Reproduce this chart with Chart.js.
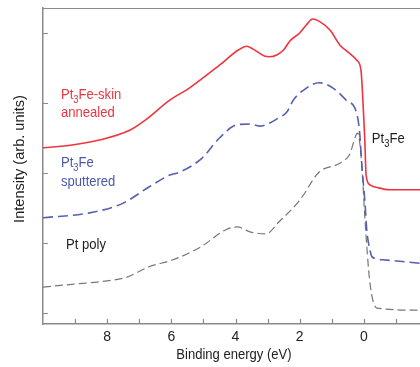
<!DOCTYPE html>
<html>
<head>
<meta charset="utf-8">
<script src="https://cdn.jsdelivr.net/npm/chart.js@4.4.1/dist/chart.umd.min.js"></script>
<style>
html, body { margin: 0; padding: 0; background: #fff; }
#wrap { width: 420px; height: 367px; position: relative; }
</style>
</head>
<body>
<div id="wrap"><canvas id="chart"></canvas></div>
<script>
// binding energy (eV) and intensity (arb. units)
var skinEnergy = [10, 9.1, 8.25, 7.3, 6.8, 6.05, 5.45, 4.5, 3.9, 3.65, 3.45, 3.1, 2.95, 2.7, 2.5, 2.3, 2.0, 1.8, 1.6, 1.4, 1.05, 0.75, 0.5, 0.22, 0.09, 0.03, -0.03, -0.07, -0.19, -0.44, -0.8, -1.75];
var skinIntensity = [2.36, 2.4, 2.47, 2.61, 2.76, 3.04, 3.21, 3.54, 3.76, 3.81, 3.77, 3.67, 3.66, 3.69, 3.76, 3.89, 4.0, 4.11, 4.2, 4.17, 4.04, 3.83, 3.73, 3.61, 3.47, 3.04, 2.47, 1.97, 1.83, 1.79, 1.76, 1.76];

var sputEnergy = [10, 8.55, 7.5, 6.7, 6.05, 5.75, 5.05, 4.5, 3.95, 3.55, 3.25, 2.95, 2.65, 2.4, 2.2, 1.8, 1.4, 0.95, 0.55, 0.22, 0.13, 0.06, -0.03, -0.09, -0.19, -0.26, -0.6, -1.75];
var sputIntensity = [1.36, 1.43, 1.57, 1.8, 1.97, 2.01, 2.21, 2.5, 2.69, 2.7, 2.67, 2.71, 2.79, 2.87, 3.04, 3.21, 3.29, 3.21, 3.04, 2.85, 2.57, 2.09, 1.61, 1.19, 0.9, 0.8, 0.76, 0.71];

var polyEnergy = [10, 9.1, 8.0, 7.4, 6.7, 5.95, 5.1, 4.3, 3.95, 3.55, 3.05, 2.65, 2.0, 1.4, 0.75, 0.45, 0.19, 0.06, -0.03, -0.19, -0.41, -1.75];
var polyIntensity = [0.37, 0.41, 0.46, 0.51, 0.66, 0.76, 0.94, 1.19, 1.23, 1.16, 1.13, 1.3, 1.61, 2.01, 2.14, 2.26, 2.57, 2.09, 1.37, 0.43, 0.07, 0.04];

var xTickLabels = [8, 6, 4, 2, 0];

function pts(es, vs) {
  return es.map(function (e, i) { return { x: e, y: vs[i] }; });
}

var FONT = "'Liberation Sans', Arial, sans-serif";
var SQUEEZE = 0.87; // the original uses a condensed face

function drawSub(ctx, parts, x, y, color, size) {
  ctx.save();
  ctx.translate(x, y);
  ctx.scale(SQUEEZE, 1);
  ctx.fillStyle = color;
  ctx.textAlign = "left";
  ctx.textBaseline = "alphabetic";
  var cx = 0;
  parts.forEach(function (p) {
    var sz = p[1] ? size * 0.72 : size;
    ctx.font = sz + "px " + FONT;
    ctx.fillText(p[0], cx, p[1] ? size * 0.28 : 0);
    cx += ctx.measureText(p[0]).width;
  });
  ctx.restore();
}

var decor = {
  id: "decor",
  afterDraw: function (chart) {
    var ctx = chart.ctx, a = chart.chartArea;
    var xs = chart.scales.x, ys = chart.scales.y;
    ctx.save();
    ctx.strokeStyle = "#8a8a8a";
    ctx.lineWidth = 1.2;
    ctx.beginPath();
    ctx.moveTo(a.left, a.top + 0.5);
    ctx.lineTo(a.right, a.top + 0.5);
    xs.ticks.forEach(function (t) {
      if (t.value < -1 || t.value > 9) return;
      var p = Math.round(xs.getPixelForValue(t.value)) + 0.5;
      ctx.moveTo(p, a.bottom);
      ctx.lineTo(p, a.bottom - 5);
    });
    ys.ticks.forEach(function (t) {
      var p = Math.round(ys.getPixelForValue(t.value)) + 0.5;
      ctx.moveTo(a.left, p);
      ctx.lineTo(a.left + 5, p);
    });
    ctx.stroke();
    ctx.restore();

    // series labels, placed in data coordinates
    function X(e) { return xs.getPixelForValue(e); }
    function Y(v) { return ys.getPixelForValue(v); }
    drawSub(ctx, [["Pt", 0], ["3", 1], ["Fe-skin", 0]], X(9.44), Y(3.06), "#ee3340", 15);
    drawSub(ctx, [["annealed", 0]], X(9.44), Y(2.8), "#ee3340", 15);
    drawSub(ctx, [["Pt", 0], ["3", 1], ["Fe", 0]], X(9.44), Y(2.09), "#4d57a8", 15);
    drawSub(ctx, [["sputtered", 0]], X(9.44), Y(1.81), "#4d57a8", 15);
    drawSub(ctx, [["Pt poly", 0]], X(9.28), Y(0.91), "#222", 15);
    drawSub(ctx, [["Pt", 0], ["3", 1], ["Fe", 0]], X(-0.25), Y(2.43), "#222", 15);

    // axis titles
    ctx.save();
    ctx.fillStyle = "#222";
    ctx.font = "15px " + FONT;
    ctx.textAlign = "center";
    ctx.textBaseline = "middle";
    ctx.save();
    ctx.translate(234, 355);
    ctx.scale(SQUEEZE, 1);
    ctx.fillText("Binding energy (eV)", 0, 0);
    ctx.restore();
    ctx.translate(20, 159);
    ctx.rotate(-Math.PI / 2);
    ctx.scale(0.97, 1);
    ctx.fillText("Intensity (arb. units)", 0, 0);
    ctx.restore();
  }
};

new Chart(document.getElementById("chart"), {
  type: "line",
  data: {
    datasets: [
      { label: "Pt3Fe-skin annealed", data: pts(skinEnergy, skinIntensity), borderColor: "#f0343f", borderWidth: 1.6 },
      { label: "Pt3Fe sputtered", data: pts(sputEnergy, sputIntensity), borderColor: "#5660b0", borderWidth: 1.6, borderDash: [10, 5] },
      { label: "Pt poly", data: pts(polyEnergy, polyIntensity), borderColor: "#777", borderWidth: 1.2, borderDash: [8, 4] }
    ]
  },
  options: {
    responsive: true,
    maintainAspectRatio: false,
    animation: false,
    layout: { padding: { top: 8, left: 0, right: 0, bottom: 0 } },
    elements: { point: { radius: 0 }, line: { cubicInterpolationMode: "monotone", fill: false } },
    plugins: { legend: { display: false }, tooltip: { enabled: false } },
    scales: {
      x: {
        type: "linear",
        reverse: true,
        min: -1.75,
        max: 10,
        grid: { display: false, drawTicks: false },
        border: { display: true, color: "#8a8a8a", width: 1.5 },
        ticks: {
          stepSize: 1,
          includeBounds: false,
          autoSkip: false,
          maxRotation: 0,
          padding: 5,
          color: "#222",
          font: { family: FONT, size: 14 },
          callback: function (v) { return xTickLabels.indexOf(v) >= 0 ? String(v) : ""; }
        },
        afterFit: function (s) { s.height = 43; }
      },
      y: {
        min: -0.157,
        max: 4.357,
        grid: { display: false, drawTicks: false },
        border: { display: true, color: "#8a8a8a", width: 1.5 },
        ticks: { display: false, stepSize: 1, includeBounds: false },
        afterFit: function (s) { s.width = 43; }
      }
    }
  },
  plugins: [decor]
});
</script>
</body>
</html>
